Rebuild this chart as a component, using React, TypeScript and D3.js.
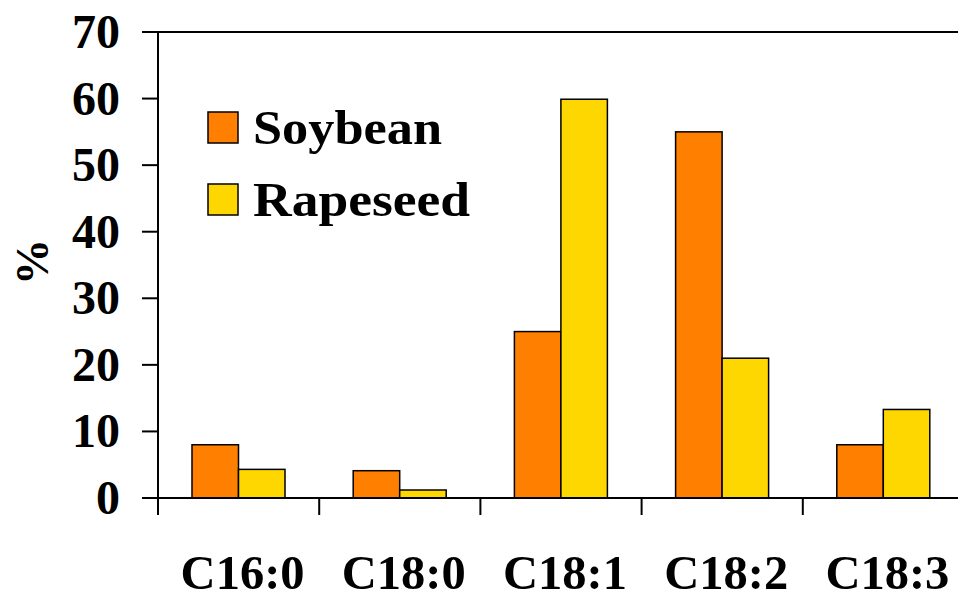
import React, { useEffect, useRef } from 'react'
import * as d3 from 'd3'

const categories = ['C16:0', 'C18:0', 'C18:1', 'C18:2', 'C18:3']
const seriesNames = ['Soybean', 'Rapeseed']
const soybean = [8, 4.1, 25, 55, 8]
const rapeseed = [4.3, 1.2, 59.9, 21, 13.3]
const yTicks = [0, 10, 20, 30, 40, 50, 60, 70]
const colors = ['#FF7F00', '#FFD700']

const W = 958
const H = 599

export default function App() {
  const ref = useRef<SVGSVGElement>(null)

  useEffect(() => {
    const svg = d3.select(ref.current)
    svg.selectAll('*').remove()

    const left = 158, top = 32, bottom = 498
    const bandW = 161.2
    const font = '"Liberation Serif", "Times New Roman", serif'

    const y = d3.scaleLinear().domain([0, 70]).range([bottom, top])
    const x = d3.scaleBand<string>()
      .domain(categories)
      .range([left, left + bandW * categories.length])
    const xs = d3.scaleBand<string>()
      .domain(seriesNames)
      .range([34, 34 + 93])

    const values = [soybean, rapeseed]

    // bars
    categories.forEach((c, i) => {
      seriesNames.forEach((s, j) => {
        const v = values[j][i]
        svg.append('rect')
          .attr('x', (x(c) as number) + (xs(s) as number))
          .attr('y', y(v))
          .attr('width', xs.bandwidth())
          .attr('height', y(0) - y(v))
          .attr('fill', colors[j])
          .attr('stroke', '#000')
          .attr('stroke-width', 1.5)
      })
    })

    // top border
    svg.append('line')
      .attr('x1', left).attr('x2', W + 10)
      .attr('y1', top).attr('y2', top)
      .attr('stroke', '#000').attr('stroke-width', 2)

    // y axis
    svg.append('line')
      .attr('x1', left).attr('x2', left)
      .attr('y1', top).attr('y2', bottom + 17)
      .attr('stroke', '#000').attr('stroke-width', 2)
    yTicks.forEach(t => {
      svg.append('line')
        .attr('x1', left - 16).attr('x2', left)
        .attr('y1', y(t)).attr('y2', y(t))
        .attr('stroke', '#000').attr('stroke-width', 2)
      svg.append('text')
        .attr('x', 120).attr('y', y(t) + 16)
        .attr('text-anchor', 'end')
        .attr('font-family', font)
        .attr('font-weight', 'bold')
        .attr('font-size', 48)
        .text(t)
    })

    // x axis
    svg.append('line')
      .attr('x1', left).attr('x2', W + 10)
      .attr('y1', bottom).attr('y2', bottom)
      .attr('stroke', '#000').attr('stroke-width', 2)
    categories.forEach(c => {
      const x0 = x(c) as number
      svg.append('line')
        .attr('x1', x0 + bandW).attr('x2', x0 + bandW)
        .attr('y1', bottom).attr('y2', bottom + 17)
        .attr('stroke', '#000').attr('stroke-width', 2)
      svg.append('text')
        .attr('x', x0 + bandW / 2 + 4 - 62).attr('y', 589)
        .attr('font-family', font)
        .attr('font-weight', 'bold')
        .attr('font-size', 48)
        .attr('textLength', 124)
        .attr('lengthAdjust', 'spacingAndGlyphs')
        .text(c)
    })

    // y title
    svg.append('text')
      .attr('transform', 'translate(48,262) rotate(-90)')
      .attr('text-anchor', 'middle')
      .attr('font-family', font)
      .attr('font-weight', 'bold')
      .attr('font-size', 46)
      .text('%')

    // legend
    const legendW = [189, 217]
    seriesNames.forEach((s, j) => {
      const ly = 112 + j * 72
      svg.append('rect')
        .attr('x', 208).attr('y', ly)
        .attr('width', 30).attr('height', 31)
        .attr('fill', colors[j])
        .attr('stroke', '#000').attr('stroke-width', 1.5)
      svg.append('text')
        .attr('x', 253).attr('y', ly + 32)
        .attr('font-family', font)
        .attr('font-weight', 'bold')
        .attr('font-size', 48)
        .attr('textLength', legendW[j])
        .attr('lengthAdjust', 'spacingAndGlyphs')
        .text(s)
    })
  }, [])

  return (
    <svg
      ref={ref}
      width={W}
      height={H}
      style={{ position: 'absolute', left: 0, top: 0, background: '#fff' }}
    />
  )
}
